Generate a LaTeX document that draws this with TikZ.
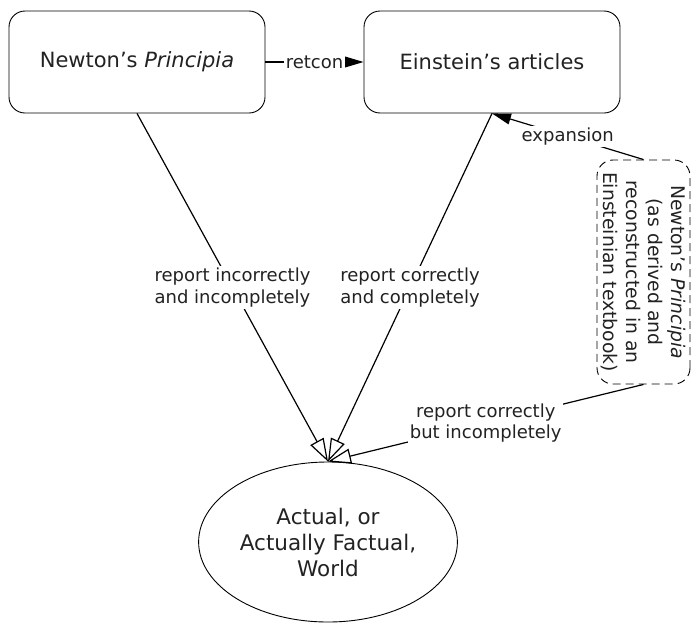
\documentclass[tikz,border=0pt]{standalone}
\usepackage{fontspec}
\setmainfont{DejaVu Sans}
\usetikzlibrary{arrows.meta,shapes.geometric}
\definecolor{inkgray}{HTML}{222222}
\begin{document}
\begin{tikzpicture}[x=1pt,y=-1pt,
  every node/.style={text=inkgray},
  docbox/.style={draw=black,line width=0.9pt,rounded corners=16pt,minimum width=256pt,minimum height=102pt,font=\fontsize{21}{25}\selectfont},
  worldnode/.style={draw=black,line width=0.9pt,ellipse,minimum width=257pt,minimum height=160pt,align=center,font=\fontsize{21.5}{26}\selectfont},
  textbook/.style={draw=black,line width=0.9pt,dashed,dash pattern=on 8pt off 5pt,rounded corners=16pt,minimum width=224pt,minimum height=93pt,inner sep=2pt,align=center,rotate=-90,font=\fontsize{18.8}{22.5}\selectfont},
  rel/.style={fill=white,inner sep=1.5pt,align=center,font=\fontsize{18}{21.7}\selectfont},
  solid/.style={draw=black,line width=1.2pt,-{Triangle[length=19pt,width=11pt]}},
  hollow/.style={draw=black,line width=1.2pt,-{Triangle[open,length=23pt,width=15pt,fill=white]}}
]
\useasboundingbox (0,0) rectangle (695,624);

\node[docbox] (newton) at (137,62) {Newton’s \textit{Principia}};
\node[docbox] (einstein) at (492,62) {Einstein’s articles};
\node[worldnode] (world) at (328,542) {Actual, or\\Actually Factual,\\World};
\node[textbook] (book) at (643.5,272) {Newton’s \textit{Principia}\\(as derived and\\reconstructed in an\\Einsteinian textbook)};

\draw[solid] (newton.east) -- node[rel] {retcon} (einstein.west);
\draw[solid] (book.west) -- node[rel] {expansion} (einstein.south);

\draw[hollow] (newton.south) -- node[rel] {report incorrectly\\and incompletely} (world.north);
\draw[hollow] (einstein.south) -- node[rel] {report correctly\\and completely} (world.north);
\draw[hollow] (book.east) -- node[rel] {report correctly\\but incompletely} (world.north);
\end{tikzpicture}
\end{document}
